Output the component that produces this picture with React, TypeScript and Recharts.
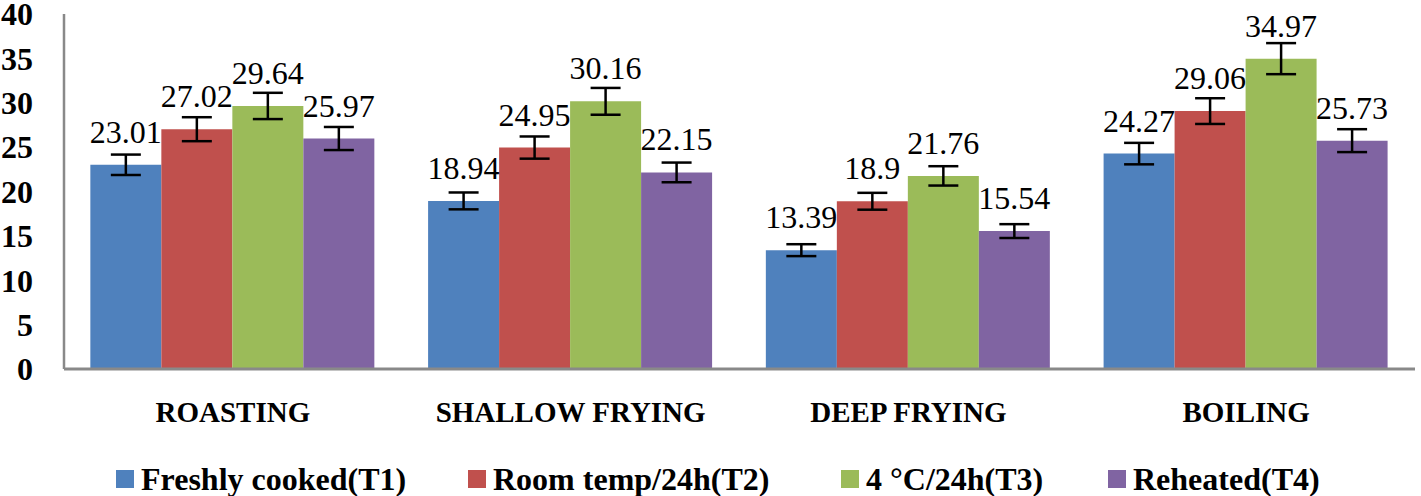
import React from 'react';
import { BarChart, Bar, XAxis, YAxis, ErrorBar, LabelList, Legend } from 'recharts';

const categories = ['ROASTING', 'SHALLOW FRYING', 'DEEP FRYING', 'BOILING'];
const seriesNames = ['Freshly cooked(T1)', 'Room temp/24h(T2)', '4 °C/24h(T3)', 'Reheated(T4)'];
const colors = ['#4F81BD', '#C0504D', '#9BBB59', '#8064A2'];

const t1 = [23.01, 18.94, 13.39, 24.27];
const t2 = [27.02, 24.95, 18.9, 29.06];
const t3 = [29.64, 30.16, 21.76, 34.97];
const t4 = [25.97, 22.15, 15.54, 25.73];

const t1Err = [1.15, 0.95, 0.67, 1.21];
const t2Err = [1.35, 1.25, 0.95, 1.45];
const t3Err = [1.48, 1.51, 1.09, 1.75];
const t4Err = [1.3, 1.11, 0.78, 1.29];

const yTicks = [0, 5, 10, 15, 20, 25, 30, 35, 40];

const values = [t1, t2, t3, t4];
const errs = [t1Err, t2Err, t3Err, t4Err];
const keys = ['t1', 't2', 't3', 't4'];

const data = categories.map((c, i) => {
  const row: Record<string, number | string> = { name: c };
  keys.forEach((k, s) => {
    row[k] = values[s][i];
    row[k + 'Err'] = errs[s][i];
  });
  return row;
});

const FONT = "Liberation Serif, Tinos, Nimbus Roman, Nimbus Roman No9 L, FreeSerif, Noto Serif, DejaVu Serif, Times New Roman, Times, serif";

const renderLegend = (props: any) => {
  const payload = [...(props.payload || [])].sort(
    (a: any, b: any) => seriesNames.indexOf(a.value) - seriesNames.indexOf(b.value)
  );
  const widths = [352, 373, 267, 0];
  return (
    <div style={{ display: 'flex', alignItems: 'center', paddingLeft: 116, height: 32 }}>
      {payload.map((entry: any, i: number) => (
        <div
          key={entry.value}
          style={{ display: 'flex', alignItems: 'center', width: widths[i] || undefined, flex: 'none' }}
        >
          <span style={{ display: 'inline-block', width: 18, height: 18, background: entry.color, marginRight: 7 }} />
          <span style={{ fontFamily: FONT, fontWeight: 'bold', fontSize: 32, lineHeight: '32px', color: '#000', whiteSpace: 'nowrap' }}>
            {entry.value}
          </span>
        </div>
      ))}
    </div>
  );
};

export default function App() {
  return (
    <div style={{ position: 'absolute', left: 0, top: 0, width: 1421, height: 496, background: '#fff' }}>
      <BarChart
        width={1421}
        height={496}
        data={data}
        margin={{ top: 14, right: 6, bottom: 67, left: 0 }}
        barCategoryGap="7.8%"
        barGap={0}
      >
        <XAxis
          dataKey="name"
          height={60}
          tickLine={false}
          tickSize={0}
          tickMargin={32}
          axisLine={{ stroke: '#898989', strokeWidth: 3 }}
          tick={{ fontFamily: FONT, fontWeight: 'bold', fontSize: 29, fill: '#000' }}
          interval={0}
        />
        <YAxis
          width={64}
          domain={[0, 40]}
          ticks={yTicks}
          interval={0}
          tickLine={false}
          tickSize={0}
          tickMargin={31}
          axisLine={{ stroke: '#898989', strokeWidth: 2.5 }}
          tick={{ fontFamily: FONT, fontWeight: 'bold', fontSize: 32, fill: '#000' }}
        />
        <Legend
          verticalAlign="middle"
          align="center"
          layout="horizontal"
          content={renderLegend}
          wrapperStyle={{ top: 463, left: 0, width: 1421 }}
        />
        {keys.map((k, s) => (
          <Bar key={k} dataKey={k} name={seriesNames[s]} fill={colors[s]} isAnimationActive={false}>
            <ErrorBar dataKey={k + 'Err'} width={15} strokeWidth={2.5} stroke="#000" direction="y" />
            <LabelList
              dataKey={k}
              position="top"
              offset={22}
              style={{ fontFamily: FONT, fontSize: 32, fill: '#000' }}
            />
          </Bar>
        ))}
      </BarChart>
    </div>
  );
}
